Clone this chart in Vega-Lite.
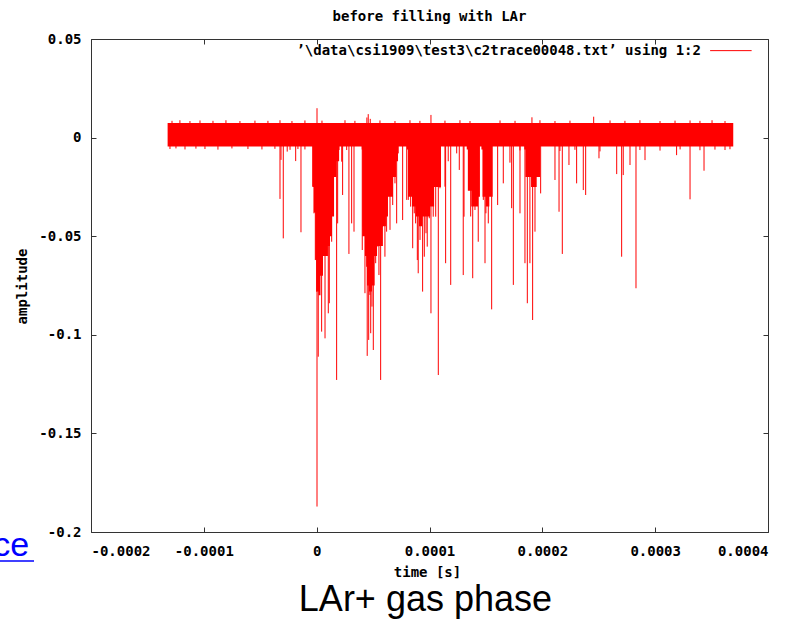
{
  "$schema": "https://vega.github.io/schema/vega-lite/v6.json",
  "width": 677,
  "height": 493,
  "autosize": {"type": "none"},
  "padding": {"left": 91, "top": 39, "right": 41, "bottom": 88},
  "background": "white",
  "title": {"text": "before filling with LAr", "font": "DejaVu Sans Mono", "fontSize": 14, "fontWeight": "bold", "color": "black", "offset": 8, "anchor": "middle"},
  "config": {
    "view": {"stroke": "#333333", "strokeWidth": 1},
    "axis": {"domain": false, "grid": false, "tickColor": "#333333", "tickSize": -5, "tickWidth": 1,
      "labelFont": "DejaVu Sans Mono", "labelFontSize": 14, "labelFontWeight": "bold", "labelColor": "black",
      "titleFont": "DejaVu Sans Mono", "titleFontSize": 14, "titleFontWeight": "bold", "titleColor": "black"}
  },
  "datasets": {
    "band": [{"t0": -0.0001321, "t1": 0.0003692, "lo": -0.0045, "hi": 0.0074}],
    "mass": [
      {"g": 1, "t": -0.0000035, "lo": -0.025, "hi": -0.004},
      {"g": 1, "t": -0.0000024, "lo": -0.038, "hi": -0.004},
      {"g": 1, "t": -0.0000012, "lo": -0.062, "hi": -0.004},
      {"g": 1, "t": -0.0000002, "lo": -0.078, "hi": -0.004},
      {"g": 1, "t": 0.0000016, "lo": -0.08, "hi": -0.004},
      {"g": 1, "t": 0.0000034, "lo": -0.07, "hi": -0.004},
      {"g": 1, "t": 0.0000056, "lo": -0.06, "hi": -0.004},
      {"g": 1, "t": 0.0000078, "lo": -0.06, "hi": -0.004},
      {"g": 1, "t": 0.0000100, "lo": -0.055, "hi": -0.004},
      {"g": 1, "t": 0.0000118, "lo": -0.05, "hi": -0.004},
      {"g": 1, "t": 0.0000136, "lo": -0.04, "hi": -0.004},
      {"g": 1, "t": 0.0000154, "lo": -0.02, "hi": -0.004},
      {"g": 1, "t": 0.0000173, "lo": -0.012, "hi": -0.004},
      {"g": 1, "t": 0.0000199, "lo": -0.006, "hi": -0.004},
      {"g": 2, "t": 0.0000399, "lo": -0.006, "hi": -0.004},
      {"g": 2, "t": 0.0000404, "lo": -0.05, "hi": -0.004},
      {"g": 2, "t": 0.0000428, "lo": -0.06, "hi": -0.004},
      {"g": 2, "t": 0.0000446, "lo": -0.075, "hi": -0.004},
      {"g": 2, "t": 0.0000464, "lo": -0.078, "hi": -0.004},
      {"g": 2, "t": 0.0000490, "lo": -0.075, "hi": -0.004},
      {"g": 2, "t": 0.0000514, "lo": -0.06, "hi": -0.004},
      {"g": 2, "t": 0.0000535, "lo": -0.055, "hi": -0.004},
      {"g": 2, "t": 0.0000561, "lo": -0.055, "hi": -0.004},
      {"g": 2, "t": 0.0000587, "lo": -0.045, "hi": -0.004},
      {"g": 2, "t": 0.0000614, "lo": -0.04, "hi": -0.004},
      {"g": 2, "t": 0.0000632, "lo": -0.03, "hi": -0.004},
      {"g": 2, "t": 0.0000659, "lo": -0.03, "hi": -0.004},
      {"g": 2, "t": 0.0000676, "lo": -0.02, "hi": -0.004},
      {"g": 2, "t": 0.0000703, "lo": -0.012, "hi": -0.004},
      {"g": 2, "t": 0.0000721, "lo": -0.006, "hi": -0.004},
      {"g": 3, "t": 0.0000800, "lo": -0.006, "hi": -0.004},
      {"g": 3, "t": 0.0000810, "lo": -0.03, "hi": -0.004},
      {"g": 3, "t": 0.0000845, "lo": -0.035, "hi": -0.004},
      {"g": 3, "t": 0.0000880, "lo": -0.04, "hi": -0.004},
      {"g": 3, "t": 0.0000907, "lo": -0.045, "hi": -0.004},
      {"g": 3, "t": 0.0000934, "lo": -0.04, "hi": -0.004},
      {"g": 3, "t": 0.0000969, "lo": -0.04, "hi": -0.004},
      {"g": 3, "t": 0.0001006, "lo": -0.035, "hi": -0.004},
      {"g": 3, "t": 0.0001041, "lo": -0.025, "hi": -0.004},
      {"g": 3, "t": 0.0001076, "lo": -0.025, "hi": -0.004},
      {"g": 3, "t": 0.0001102, "lo": -0.008, "hi": -0.004},
      {"g": 4, "t": 0.0001330, "lo": -0.006, "hi": -0.004},
      {"g": 4, "t": 0.0001340, "lo": -0.027, "hi": -0.004},
      {"g": 4, "t": 0.0001370, "lo": -0.035, "hi": -0.004},
      {"g": 4, "t": 0.0001400, "lo": -0.035, "hi": -0.004},
      {"g": 4, "t": 0.0001430, "lo": -0.03, "hi": -0.004},
      {"g": 4, "t": 0.0001447, "lo": -0.006, "hi": -0.004},
      {"g": 5, "t": 0.0001460, "lo": -0.006, "hi": -0.004},
      {"g": 5, "t": 0.0001470, "lo": -0.03, "hi": -0.004},
      {"g": 5, "t": 0.0001500, "lo": -0.035, "hi": -0.004},
      {"g": 5, "t": 0.0001530, "lo": -0.03, "hi": -0.004},
      {"g": 5, "t": 0.0001560, "lo": -0.006, "hi": -0.004},
      {"g": 6, "t": 0.0001840, "lo": -0.006, "hi": -0.004},
      {"g": 6, "t": 0.0001850, "lo": -0.02, "hi": -0.004},
      {"g": 6, "t": 0.0001900, "lo": -0.025, "hi": -0.004},
      {"g": 6, "t": 0.0001950, "lo": -0.02, "hi": -0.004},
      {"g": 6, "t": 0.0001980, "lo": -0.006, "hi": -0.004}
    ],
    "spikes": [
      {"t": 0.0000003, "lo": 0.007, "hi": 0.0149},
      {"t": 0.0000445, "lo": 0.007, "hi": 0.0102},
      {"t": 0.0000457, "lo": 0.007, "hi": 0.0119},
      {"t": 0.0000475, "lo": 0.007, "hi": 0.0095},
      {"t": 0.0001013, "lo": 0.007, "hi": 0.0115},
      {"t": 0.0001908, "lo": 0.007, "hi": 0.0103},
      {"t": 0.0002455, "lo": 0.007, "hi": 0.0106},
      {"t": -0.0001282, "lo": 0.007, "hi": 0.0085},
      {"t": -0.0001212, "lo": 0.007, "hi": 0.0088},
      {"t": -0.0001123, "lo": 0.007, "hi": 0.0084},
      {"t": -0.0001034, "lo": 0.007, "hi": 0.0087},
      {"t": -0.0000919, "lo": 0.007, "hi": 0.0085},
      {"t": -0.0000804, "lo": 0.007, "hi": 0.0088},
      {"t": -0.0000680, "lo": 0.007, "hi": 0.0084},
      {"t": -0.0000547, "lo": 0.007, "hi": 0.0086},
      {"t": -0.0000432, "lo": 0.007, "hi": 0.0085},
      {"t": -0.0000325, "lo": 0.007, "hi": 0.0088},
      {"t": -0.0000219, "lo": 0.007, "hi": 0.0084},
      {"t": -0.0000104, "lo": 0.007, "hi": 0.0087},
      {"t": 0.0000047, "lo": 0.007, "hi": 0.0086},
      {"t": 0.0000251, "lo": 0.007, "hi": 0.0088},
      {"t": 0.0000339, "lo": 0.007, "hi": 0.0085},
      {"t": 0.0000561, "lo": 0.007, "hi": 0.0087},
      {"t": 0.0000694, "lo": 0.007, "hi": 0.0084},
      {"t": 0.0000827, "lo": 0.007, "hi": 0.0088},
      {"t": 0.0000915, "lo": 0.007, "hi": 0.0085},
      {"t": 0.0001137, "lo": 0.007, "hi": 0.0086},
      {"t": 0.0001270, "lo": 0.007, "hi": 0.0088},
      {"t": 0.0001359, "lo": 0.007, "hi": 0.0084},
      {"t": 0.0001625, "lo": 0.007, "hi": 0.0087},
      {"t": 0.0001758, "lo": 0.007, "hi": 0.0085},
      {"t": 0.0001979, "lo": 0.007, "hi": 0.0088},
      {"t": 0.0002112, "lo": 0.007, "hi": 0.0084},
      {"t": 0.0002245, "lo": 0.007, "hi": 0.0086},
      {"t": 0.0002600, "lo": 0.007, "hi": 0.0087},
      {"t": 0.0002732, "lo": 0.007, "hi": 0.0085},
      {"t": 0.0002865, "lo": 0.007, "hi": 0.0088},
      {"t": 0.0003043, "lo": 0.007, "hi": 0.0084},
      {"t": 0.0003176, "lo": 0.007, "hi": 0.0086},
      {"t": 0.0003309, "lo": 0.007, "hi": 0.0087},
      {"t": 0.0003397, "lo": 0.007, "hi": 0.0085},
      {"t": 0.0003504, "lo": 0.007, "hi": 0.0088},
      {"t": 0.0003619, "lo": 0.007, "hi": 0.0084},
      {"t": -0.0001300, "lo": -0.0058, "hi": -0.004},
      {"t": -0.0001247, "lo": -0.0055, "hi": -0.004},
      {"t": -0.0001167, "lo": -0.0060, "hi": -0.004},
      {"t": -0.0001070, "lo": -0.0056, "hi": -0.004},
      {"t": -0.0000990, "lo": -0.0058, "hi": -0.004},
      {"t": -0.0000875, "lo": -0.0061, "hi": -0.004},
      {"t": -0.0000751, "lo": -0.0055, "hi": -0.004},
      {"t": -0.0000609, "lo": -0.0058, "hi": -0.004},
      {"t": -0.0000485, "lo": -0.0060, "hi": -0.004},
      {"t": -0.0000370, "lo": -0.0057, "hi": -0.004},
      {"t": -0.0000236, "lo": -0.0062, "hi": -0.004},
      {"t": -0.0000166, "lo": -0.0058, "hi": -0.004},
      {"t": -0.0000104, "lo": -0.0060, "hi": -0.004},
      {"t": 0.0001802, "lo": -0.0065, "hi": -0.004},
      {"t": 0.0002156, "lo": -0.0068, "hi": -0.004},
      {"t": 0.0002289, "lo": -0.0062, "hi": -0.004},
      {"t": 0.0002511, "lo": -0.0070, "hi": -0.004},
      {"t": 0.0002865, "lo": -0.0063, "hi": -0.004},
      {"t": 0.0003043, "lo": -0.0066, "hi": -0.004},
      {"t": 0.0003221, "lo": -0.0060, "hi": -0.004},
      {"t": 0.0003397, "lo": -0.0064, "hi": -0.004},
      {"t": 0.0003530, "lo": -0.0061, "hi": -0.004},
      {"t": 0.0003619, "lo": -0.0063, "hi": -0.004},
      {"t": 0.0003663, "lo": -0.0059, "hi": -0.004},
      {"t": -0.0000325, "lo": -0.0311, "hi": -0.004},
      {"t": -0.0000316, "lo": -0.0113, "hi": -0.004},
      {"t": -0.0000296, "lo": -0.0511, "hi": -0.004},
      {"t": -0.0000261, "lo": -0.0071, "hi": -0.004},
      {"t": -0.0000186, "lo": -0.0119, "hi": -0.004},
      {"t": -0.0000139, "lo": -0.0480, "hi": -0.004},
      {"t": -0.0000035, "lo": -0.0249, "hi": -0.004},
      {"t": -0.0000024, "lo": -0.0384, "hi": -0.004},
      {"t": -0.0000012, "lo": -0.0621, "hi": -0.004},
      {"t": 0.0000000, "lo": -0.0781, "hi": -0.004},
      {"t": 0.0000003, "lo": -0.1871, "hi": -0.004},
      {"t": 0.0000014, "lo": -0.1111, "hi": -0.004},
      {"t": 0.0000029, "lo": -0.0621, "hi": -0.004},
      {"t": 0.0000044, "lo": -0.0984, "hi": -0.004},
      {"t": 0.0000059, "lo": -0.0511, "hi": -0.004},
      {"t": 0.0000074, "lo": -0.1018, "hi": -0.004},
      {"t": 0.0000089, "lo": -0.0384, "hi": -0.004},
      {"t": 0.0000103, "lo": -0.0891, "hi": -0.004},
      {"t": 0.0000112, "lo": -0.0840, "hi": -0.004},
      {"t": 0.0000124, "lo": -0.0148, "hi": -0.004},
      {"t": 0.0000133, "lo": -0.0528, "hi": -0.004},
      {"t": 0.0000147, "lo": -0.0316, "hi": -0.004},
      {"t": 0.0000162, "lo": -0.0139, "hi": -0.004},
      {"t": 0.0000177, "lo": -0.1229, "hi": -0.004},
      {"t": 0.0000186, "lo": -0.0435, "hi": -0.004},
      {"t": 0.0000198, "lo": -0.0063, "hi": -0.004},
      {"t": 0.0000222, "lo": -0.0122, "hi": -0.004},
      {"t": 0.0000230, "lo": -0.0291, "hi": -0.004},
      {"t": 0.0000266, "lo": -0.0063, "hi": -0.004},
      {"t": 0.0000286, "lo": -0.0590, "hi": -0.004},
      {"t": 0.0000310, "lo": -0.0435, "hi": -0.004},
      {"t": 0.0000331, "lo": -0.0477, "hi": -0.004},
      {"t": 0.0000404, "lo": -0.0570, "hi": -0.004},
      {"t": 0.0000413, "lo": -0.0452, "hi": -0.004},
      {"t": 0.0000428, "lo": -0.0789, "hi": -0.004},
      {"t": 0.0000443, "lo": -0.0655, "hi": -0.004},
      {"t": 0.0000448, "lo": -0.1107, "hi": -0.004},
      {"t": 0.0000461, "lo": -0.1026, "hi": -0.004},
      {"t": 0.0000472, "lo": -0.0798, "hi": -0.004},
      {"t": 0.0000479, "lo": -0.0992, "hi": -0.004},
      {"t": 0.0000490, "lo": -0.0857, "hi": -0.004},
      {"t": 0.0000502, "lo": -0.1077, "hi": -0.004},
      {"t": 0.0000514, "lo": -0.0570, "hi": -0.004},
      {"t": 0.0000523, "lo": -0.0637, "hi": -0.004},
      {"t": 0.0000532, "lo": -0.0376, "hi": -0.004},
      {"t": 0.0000543, "lo": -0.0553, "hi": -0.004},
      {"t": 0.0000552, "lo": -0.0697, "hi": -0.004},
      {"t": 0.0000567, "lo": -0.1229, "hi": -0.004},
      {"t": 0.0000581, "lo": -0.0452, "hi": -0.004},
      {"t": 0.0000590, "lo": -0.0418, "hi": -0.004},
      {"t": 0.0000605, "lo": -0.0604, "hi": -0.004},
      {"t": 0.0000620, "lo": -0.0477, "hi": -0.004},
      {"t": 0.0000626, "lo": -0.0198, "hi": -0.004},
      {"t": 0.0000650, "lo": -0.0468, "hi": -0.004},
      {"t": 0.0000674, "lo": -0.0342, "hi": -0.004},
      {"t": 0.0000694, "lo": -0.0232, "hi": -0.004},
      {"t": 0.0000709, "lo": -0.0435, "hi": -0.004},
      {"t": 0.0000723, "lo": -0.0080, "hi": -0.004},
      {"t": 0.0000762, "lo": -0.0418, "hi": -0.004},
      {"t": 0.0000798, "lo": -0.0316, "hi": -0.004},
      {"t": 0.0000812, "lo": -0.0316, "hi": -0.004},
      {"t": 0.0000833, "lo": -0.0350, "hi": -0.004},
      {"t": 0.0000851, "lo": -0.0561, "hi": -0.004},
      {"t": 0.0000865, "lo": -0.0384, "hi": -0.004},
      {"t": 0.0000877, "lo": -0.0435, "hi": -0.004},
      {"t": 0.0000892, "lo": -0.0621, "hi": -0.004},
      {"t": 0.0000900, "lo": -0.0688, "hi": -0.004},
      {"t": 0.0000916, "lo": -0.0519, "hi": -0.004},
      {"t": 0.0000931, "lo": -0.0350, "hi": -0.004},
      {"t": 0.0000939, "lo": -0.0781, "hi": -0.004},
      {"t": 0.0000954, "lo": -0.0604, "hi": -0.004},
      {"t": 0.0000969, "lo": -0.0485, "hi": -0.004},
      {"t": 0.0000980, "lo": -0.0553, "hi": -0.004},
      {"t": 0.0000998, "lo": -0.0409, "hi": -0.004},
      {"t": 0.0001013, "lo": -0.0891, "hi": -0.004},
      {"t": 0.0001033, "lo": -0.0401, "hi": -0.004},
      {"t": 0.0001046, "lo": -0.0100, "hi": -0.004},
      {"t": 0.0001055, "lo": -0.0401, "hi": -0.004},
      {"t": 0.0001078, "lo": -0.1204, "hi": -0.004},
      {"t": 0.0001093, "lo": -0.0257, "hi": -0.004},
      {"t": 0.0001137, "lo": -0.0249, "hi": -0.004},
      {"t": 0.0001143, "lo": -0.0637, "hi": -0.004},
      {"t": 0.0001166, "lo": -0.0120, "hi": -0.004},
      {"t": 0.0001188, "lo": -0.0747, "hi": -0.004},
      {"t": 0.0001241, "lo": -0.0080, "hi": -0.004},
      {"t": 0.0001264, "lo": -0.0164, "hi": -0.004},
      {"t": 0.0001299, "lo": -0.0697, "hi": -0.004},
      {"t": 0.0001306, "lo": -0.0401, "hi": -0.004},
      {"t": 0.0001359, "lo": -0.0266, "hi": -0.004},
      {"t": 0.0001365, "lo": -0.0400, "hi": -0.004},
      {"t": 0.0001383, "lo": -0.0713, "hi": -0.004},
      {"t": 0.0001403, "lo": -0.0367, "hi": -0.004},
      {"t": 0.0001432, "lo": -0.0528, "hi": -0.004},
      {"t": 0.0001477, "lo": -0.0316, "hi": -0.004},
      {"t": 0.0001492, "lo": -0.0637, "hi": -0.004},
      {"t": 0.0001500, "lo": -0.0384, "hi": -0.004},
      {"t": 0.0001521, "lo": -0.0435, "hi": -0.004},
      {"t": 0.0001536, "lo": -0.0257, "hi": -0.004},
      {"t": 0.0001551, "lo": -0.0871, "hi": -0.004},
      {"t": 0.0001604, "lo": -0.0342, "hi": -0.004},
      {"t": 0.0001654, "lo": -0.0232, "hi": -0.004},
      {"t": 0.0001713, "lo": -0.0127, "hi": -0.004},
      {"t": 0.0001728, "lo": -0.0358, "hi": -0.004},
      {"t": 0.0001743, "lo": -0.0747, "hi": -0.004},
      {"t": 0.0001802, "lo": -0.0384, "hi": -0.004},
      {"t": 0.0001846, "lo": -0.0637, "hi": -0.004},
      {"t": 0.0001867, "lo": -0.0840, "hi": -0.004},
      {"t": 0.0001890, "lo": -0.0637, "hi": -0.004},
      {"t": 0.0001914, "lo": -0.0925, "hi": -0.004},
      {"t": 0.0001935, "lo": -0.0477, "hi": -0.004},
      {"t": 0.0001955, "lo": -0.0198, "hi": -0.004},
      {"t": 0.0001985, "lo": -0.0283, "hi": -0.004},
      {"t": 0.0002112, "lo": -0.0215, "hi": -0.004},
      {"t": 0.0002148, "lo": -0.0376, "hi": -0.004},
      {"t": 0.0002177, "lo": -0.0590, "hi": -0.004},
      {"t": 0.0002236, "lo": -0.0139, "hi": -0.004},
      {"t": 0.0002304, "lo": -0.0232, "hi": -0.004},
      {"t": 0.0002363, "lo": -0.0266, "hi": -0.004},
      {"t": 0.0002384, "lo": -0.0291, "hi": -0.004},
      {"t": 0.0002502, "lo": -0.0105, "hi": -0.004},
      {"t": 0.0002659, "lo": -0.0185, "hi": -0.004},
      {"t": 0.0002703, "lo": -0.0604, "hi": -0.004},
      {"t": 0.0002717, "lo": -0.0190, "hi": -0.004},
      {"t": 0.0002777, "lo": -0.0139, "hi": -0.004},
      {"t": 0.0002830, "lo": -0.0764, "hi": -0.004},
      {"t": 0.0002910, "lo": -0.0114, "hi": -0.004},
      {"t": 0.0003190, "lo": -0.0089, "hi": -0.004},
      {"t": 0.0003309, "lo": -0.0313, "hi": -0.004},
      {"t": 0.0003433, "lo": -0.0168, "hi": -0.004}
    ]
  },
  "resolve": {"axis": {"x": "independent", "y": "independent"}},
  "layer": [
    {
      "data": {"name": "band"},
      "mark": {"type": "rect", "color": "#ff0000"},
      "encoding": {
        "x": {"field": "t0", "type": "quantitative", "scale": {"domain": [-0.0002, 0.0004], "nice": false, "zero": false},
          "axis": {"orient": "bottom", "values": [-0.0002, -0.0001, 0, 0.0001, 0.0002, 0.0003, 0.0004], "labelPadding": 17,
            "labelExpr": "datum.value == 0 ? '0' : replace(format(datum.value, '.4f'), '−', '-')",
            "title": "time [s]", "titleX": 336, "titleY": 40, "titleBaseline": "middle", "titleAnchor": null}},
        "x2": {"field": "t1"},
        "y": {"field": "lo", "type": "quantitative", "scale": {"domain": [-0.2, 0.05], "nice": false, "zero": false},
          "axis": {"orient": "left", "values": [-0.2, -0.15, -0.1, -0.05, 0, 0.05], "labelPadding": 15,
            "labelExpr": "datum.value == 0 ? '0' : replace(format(datum.value, '~g'), '−', '-')",
            "title": "amplitude", "titleX": -69, "titleY": 247, "titleAngle": 270, "titleBaseline": "middle", "titleAlign": "center"}},
        "y2": {"field": "hi"}
      }
    },
    {
      "data": {"name": "mass"},
      "mark": {"type": "area", "color": "#ff0000", "interpolate": "step-after"},
      "encoding": {
        "x": {"field": "t", "type": "quantitative", "axis": null},
        "y": {"field": "lo", "type": "quantitative", "axis": null},
        "y2": {"field": "hi"},
        "detail": {"field": "g", "type": "nominal"}
      }
    },
    {
      "data": {"name": "spikes"},
      "mark": {"type": "rule", "color": "#ff0000", "strokeWidth": 1},
      "encoding": {
        "x": {"field": "t", "type": "quantitative",
          "axis": {"orient": "top", "values": [-0.0002, -0.0001, 0, 0.0001, 0.0002, 0.0003, 0.0004], "labels": false, "title": null}},
        "y": {"field": "lo", "type": "quantitative",
          "axis": {"orient": "right", "values": [-0.2, -0.15, -0.1, -0.05, 0, 0.05], "labels": false, "title": null}},
        "y2": {"field": "hi"}
      }
    },
    {
      "data": {"values": [{"label": "’\\data\\csi1909\\test3\\c2trace00048.txt’ using 1:2"}]},
      "mark": {"type": "text", "font": "DejaVu Sans Mono", "fontSize": 14, "fontWeight": "bold", "color": "black", "align": "right", "baseline": "middle"},
      "encoding": {
        "x": {"datum": 0.0003406, "type": "quantitative", "axis": null},
        "y": {"datum": 0.0441, "type": "quantitative", "axis": null},
        "text": {"field": "label"}
      }
    },
    {
      "data": {"values": [{"series": "legend"}]},
      "mark": {"type": "rule", "color": "#ff0000", "strokeWidth": 1},
      "encoding": {
        "x": {"datum": 0.0003487, "type": "quantitative", "axis": null},
        "x2": {"datum": 0.0003855},
        "y": {"datum": 0.0441, "type": "quantitative", "axis": null}
      }
    },
    {
      "data": {"values": [{"label": "LAr+ gas phase"}]},
      "mark": {"type": "text", "font": "Liberation Sans", "fontSize": 36, "color": "black", "align": "center", "baseline": "alphabetic"},
      "encoding": {
        "x": {"datum": 0.0000964, "type": "quantitative", "axis": null},
        "y": {"datum": -0.2400, "type": "quantitative", "axis": null},
        "text": {"field": "label"}
      }
    },
    {
      "data": {"values": [{"label": "ce"}]},
      "mark": {"type": "text", "font": "Liberation Sans", "fontSize": 34, "color": "#0000ff", "align": "right", "baseline": "alphabetic"},
      "encoding": {
        "x": {"datum": -0.0002549, "type": "quantitative", "axis": null},
        "y": {"datum": -0.2121, "type": "quantitative", "axis": null},
        "text": {"field": "label"}
      }
    },
    {
      "data": {"values": [{"series": "underline"}]},
      "mark": {"type": "rule", "color": "#0000ff", "strokeWidth": 1.5},
      "encoding": {
        "x": {"datum": -0.000281, "type": "quantitative", "axis": null},
        "x2": {"datum": -0.0002505},
        "y": {"datum": -0.2147, "type": "quantitative", "axis": null}
      }
    }
  ]
}
